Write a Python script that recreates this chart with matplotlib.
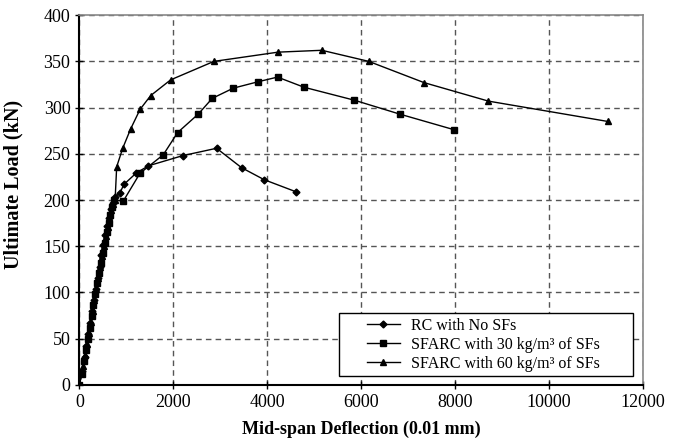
import matplotlib.pyplot as plt
from matplotlib.patches import Rectangle

plt.rcParams['font.family'] = ['Liberation Serif', 'DejaVu Serif']

## Data
rc_x = [0, 60, 110, 150, 190, 230, 270, 310, 350, 390, 430, 470, 510, 550, 590, 630, 670,
        710, 760, 865, 950, 1206, 1468, 2199, 2922, 3454, 3936, 4610]
rc_y = [0, 15, 30, 42, 55, 67, 80, 92, 104, 116, 128, 140, 151, 162, 172, 181, 190,
        197, 203, 208, 217, 229, 237, 248, 256, 235, 222, 209]

sf30_x = [0, 50, 100, 140, 180, 220, 260, 300, 340, 380, 420, 460, 500, 540, 580, 620, 660,
          700, 740, 936, 1291, 1787, 2092, 2532, 2830, 3277, 3809, 4220, 4786, 5857, 6821, 7986]
sf30_y = [0, 12, 26, 38, 50, 62, 74, 86, 98, 110, 121, 132, 143, 154, 165, 175, 184,
          193, 200, 199, 229, 249, 273, 293, 310, 321, 328, 333, 322, 308, 293, 276]

sf60_x = [0, 70, 120, 160, 200, 240, 280, 320, 360, 400, 440, 480, 520, 560, 600, 640, 680,
          720, 760, 794, 922, 1092, 1291, 1518, 1943, 2865, 4234, 5164, 6164, 7343, 8714, 11257]
sf60_y = [0, 20, 32, 44, 56, 68, 80, 92, 104, 116, 128, 139, 150, 161, 171, 180, 189,
          196, 200, 236, 256, 277, 298, 313, 330, 350, 360, 362, 350, 327, 307, 285]

labels = ['RC with No SFs', 'SFARC with 30 kg/m³ of SFs', 'SFARC with 60 kg/m³ of SFs']
xticks = [0, 2000, 4000, 6000, 8000, 10000, 12000]
yticks = [0, 50, 100, 150, 200, 250, 300, 350, 400]

#____________________________________________________________________________________________________
fig = plt.figure(figsize=(6.73, 4.46), dpi=100)
ax = fig.add_axes([0.118, 0.137, 0.837, 0.829])

ax.plot(rc_x, rc_y, color='black', lw=1.0, marker='D', ms=3.5, label=labels[0])
ax.plot(sf30_x, sf30_y, color='black', lw=1.0, marker='s', ms=4, label=labels[1])
ax.plot(sf60_x, sf60_y, color='black', lw=1.0, marker='^', ms=4.5, label=labels[2])

ax.set_xlim(0, 12000)
ax.set_ylim(0, 400)
ax.set_xticks(xticks)
ax.set_yticks(yticks)
ax.tick_params(axis='both', direction='inout', length=6, width=1, labelsize=13)

## Grid
ax.grid(True, color='#555555', linestyle=(0, (4, 3)), linewidth=1.0)
ax.set_axisbelow(True)

## Spines
for s in ['left', 'bottom']:
    ax.spines[s].set_linewidth(1.5)
    ax.spines[s].set_color('black')
for s in ['top', 'right']:
    ax.spines[s].set_linewidth(1.2)
    ax.spines[s].set_color('#888888')

ax.set_xlabel('Mid-span Deflection (0.01 mm)', fontsize=13, fontweight='bold', labelpad=7)
ax.set_ylabel('Ultimate Load (kN)', fontsize=14.5, fontweight='bold')
ax.yaxis.set_label_coords(-0.1, 0.543)

## Legend: wide box drawn separately, entries placed inside
ax.add_patch(Rectangle((0.461, 0.024), 0.522, 0.171, transform=ax.transAxes,
                       facecolor='white', edgecolor='black', linewidth=1.0, zorder=4))
leg = ax.legend(loc='upper left', bbox_to_anchor=(0.51, 0.182), fontsize=11.5,
                frameon=False, handlelength=2.1, handletextpad=0.7,
                borderpad=0, borderaxespad=0, labelspacing=0.2)
leg.set_zorder(5)

fig.savefig('out.png', dpi=100)
